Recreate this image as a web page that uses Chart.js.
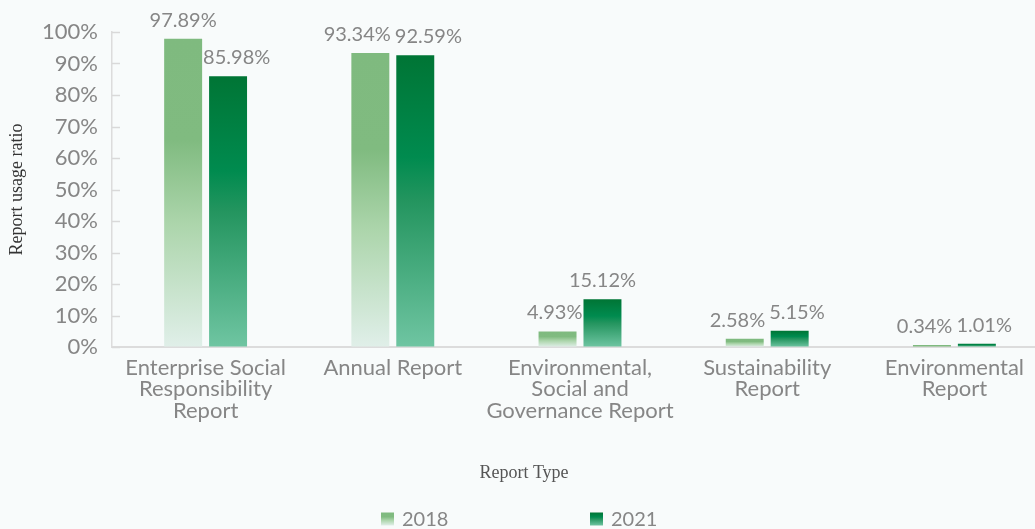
<!DOCTYPE html>
<html>
<head>
<meta charset="utf-8">
<script src="https://cdn.jsdelivr.net/npm/chart.js@4.4.1/dist/chart.umd.min.js"></script>
<style>
  html, body { margin: 0; padding: 0; background: #f8fbfb; overflow: hidden; }
  #wrap { width: 1050px; height: 529px; position: relative; }
</style>
</head>
<body>
<div id="wrap"><canvas id="c"></canvas></div>
<script>
const categories = [
  ['Enterprise Social', 'Responsibility', 'Report'],
  ['Annual Report'],
  ['Environmental,', 'Social and', 'Governance Report'],
  ['Sustainability', 'Report'],
  ['Environmental', 'Report']
];
const seriesNames = ['2018', '2021'];
const values2018 = [97.89, 93.34, 4.93, 2.58, 0.34];
const values2021 = [85.98, 92.59, 15.12, 5.15, 1.01];
const yTicks = [0, 10, 20, 30, 40, 50, 60, 70, 80, 90, 100];

const SANS = 'Lato, "Source Sans Pro", "Noto Sans", sans-serif';
const SERIF = '"Liberation Serif", "DejaVu Serif", serif';
const GREY = '#868686';

const gradStops = [
  [[0, '#7fba7f'], [0.33, '#80bb80'], [0.6, '#acd5ab'], [1, '#e0efe9']],
  [[0, '#007535'], [0.35, '#008b4f'], [0.5, '#24955f'], [1, '#6fc5a2']]
];

function barGradient(ctx, top, bottom, stops) {
  const g = ctx.createLinearGradient(0, top, 0, bottom);
  stops.forEach(s => g.addColorStop(s[0], s[1]));
  return g;
}

function scriptedBg(dsIndex) {
  return function(context) {
    const chart = context.chart;
    const y = chart.scales && chart.scales.y;
    if (!chart.chartArea || !y || context.type !== 'data') return gradStops[dsIndex][0][1];
    const top = y.getPixelForValue(context.raw);
    const bottom = y.getPixelForValue(0);
    if (bottom - top < 3) return gradStops[dsIndex][0][1];
    return barGradient(chart.ctx, top, bottom, gradStops[dsIndex]);
  };
}

// value labels above bars, kept clear of the neighbouring bar and of each other
const valueLabels = {
  id: 'valueLabels',
  afterDatasetsDraw(chart) {
    const ctx = chart.ctx;
    ctx.save();
    ctx.font = '400 20px ' + SANS;
    ctx.fillStyle = GREY;
    ctx.textAlign = 'center';
    ctx.textBaseline = 'alphabetic';
    const m0 = chart.getDatasetMeta(0).data;
    const m1 = chart.getDatasetMeta(1).data;
    const d0 = chart.data.datasets[0].data;
    const d1 = chart.data.datasets[1].data;
    m0.forEach((b0, i) => {
      const b1 = m1[i];
      const t0 = d0[i].toFixed(2) + '%';
      const t1 = d1[i].toFixed(2) + '%';
      const w0 = ctx.measureText(t0).width;
      const w1 = ctx.measureText(t1).width;
      let x0 = b0.x, x1 = b1.x;
      const y0 = b0.y - 12, y1 = b1.y - 12;
      if (y1 + 3 > b0.y) {
        const minX = b0.x + b0.width / 2 + 1 + w1 / 2;
        if (x1 < minX) x1 = minX;
      }
      if (y0 + 3 > b1.y) {
        const maxX = b1.x - b1.width / 2 - 1 - w0 / 2;
        if (x0 > maxX) x0 = maxX;
      }
      if (Math.abs(y0 - y1) < 18) {
        const need = (w0 + w1) / 2 + 4;
        if ((x1 - x0) < need) {
          const push = (need - (x1 - x0)) / 2;
          x0 -= push; x1 += push;
        }
      }
      ctx.fillText(t0, x0, y0);
      ctx.fillText(t1, x1, y1);
    });
    ctx.restore();
  }
};

const innerTicks = {
  id: 'innerTicks',
  afterDraw(chart) {
    const y = chart.scales.y;
    const ctx = chart.ctx;
    ctx.save();
    ctx.strokeStyle = '#d9d9d9';
    ctx.lineWidth = 1.5;
    y.ticks.forEach((t, i) => {
      const py = Math.round(y.getPixelForTick(i)) + 0.5;
      ctx.beginPath();
      ctx.moveTo(y.right, py);
      ctx.lineTo(y.right + 8, py);
      ctx.stroke();
    });
    ctx.restore();
  }
};

const customLegend = {
  id: 'customLegend',
  afterDraw(chart) {
    const ctx = chart.ctx;
    const items = [
      { x: 381, text: seriesNames[0], stops: gradStops[0] },
      { x: 590, text: seriesNames[1], stops: gradStops[1] }
    ];
    ctx.save();
    ctx.font = '400 20px ' + SANS;
    ctx.textBaseline = 'alphabetic';
    ctx.textAlign = 'left';
    items.forEach(it => {
      ctx.fillStyle = barGradient(ctx, 512.5, 525.5, it.stops);
      ctx.fillRect(it.x, 512.5, 13, 13);
      ctx.fillStyle = GREY;
      ctx.fillText(it.text, it.x + 21, 526);
    });
    ctx.restore();
  }
};

new Chart(document.getElementById('c'), {
  type: 'bar',
  data: {
    labels: categories,
    datasets: [
      { label: seriesNames[0], data: values2018, backgroundColor: scriptedBg(0), borderWidth: 0 },
      { label: seriesNames[1], data: values2021, backgroundColor: scriptedBg(1), borderWidth: 0 }
    ]
  },
  options: {
    responsive: true,
    maintainAspectRatio: false,
    animation: false,
    devicePixelRatio: 1,
    layout: { padding: { top: 32, left: 0, right: 2, bottom: 30.4 } },
    datasets: { bar: { categoryPercentage: 0.48, barPercentage: 0.845, minBarLength: 2 } },
    plugins: {
      legend: { display: false },
      tooltip: { enabled: false },
      title: {
        display: true,
        position: 'bottom',
        weight: 500,
        text: 'Report Type',
        color: '#555555',
        font: { family: SERIF, size: 18, weight: 'normal', lineHeight: 1.2 },
        padding: { top: 15, bottom: 15 }
      }
    },
    scales: {
      x: {
        grid: { display: false, drawTicks: false },
        border: { display: true, color: '#dcdcdc', width: 2 },
        ticks: {
          color: GREY,
          padding: 10,
          maxRotation: 0,
          autoSkip: false,
          font: { family: SANS, size: 22, weight: '400', lineHeight: 0.98 }
        },
        afterFit(scale) { scale.height = 100; }
      },
      y: {
        min: 0,
        max: 100,
        afterBuildTicks(scale) { scale.ticks = yTicks.map(v => ({ value: v })); },
        grid: { display: true, drawOnChartArea: false, drawTicks: false },
        border: { display: true, color: '#dcdcdc', width: 1.5 },
        ticks: {
          color: GREY,
          padding: 14,
          font: { family: SANS, size: 22, weight: '400' },
          callback: v => v + '%'
        },
        title: {
          display: true,
          text: 'Report usage ratio',
          color: '#333333',
          font: { family: SERIF, size: 18, weight: 'normal', lineHeight: 1.2 },
          padding: { top: 6, bottom: 0 }
        },
        afterFit(scale) { scale.width = 112; }
      }
    }
  },
  plugins: [valueLabels, innerTicks, customLegend]
});
</script>
</body>
</html>
